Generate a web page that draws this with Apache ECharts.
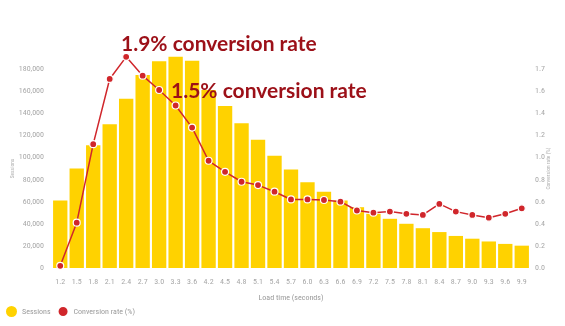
<!DOCTYPE html>
<html><head><meta charset="utf-8">
<script src="https://cdn.jsdelivr.net/npm/echarts@6/dist/echarts.min.js"></script>
<style>html,body{margin:0;padding:0;background:#fff}#c{width:565px;height:326px}</style>
</head><body><div id="c"></div>
<script>
var categories = ['1.2','1.5','1.8','2.1','2.4','2.7','3.0','3.3','3.6','4.2','4.5','4.8','5.1','5.4','5.7','6.0','6.3','6.6','6.9','7.2','7.5','7.8','8.1','8.4','8.7','9.0','9.3','9.6','9.9'];
var sessions = [61000,90000,111000,130000,153000,174500,187000,191000,187500,161000,146500,131000,116000,101500,89000,77500,69000,61000,55000,49000,44500,40000,36000,32500,29000,26500,24000,21800,20200];
var conversion = [0.02,0.41,1.12,1.71,1.91,1.74,1.61,1.47,1.27,0.97,0.87,0.78,0.75,0.69,0.62,0.62,0.615,0.60,0.52,0.50,0.51,0.49,0.48,0.58,0.51,0.48,0.455,0.49,0.54];
var leftTicks = [0,20000,40000,60000,80000,100000,120000,140000,160000,180000];
var rightTickLabels = {'0.0':'0.0','0.2':'0.2','0.4':'0.4','0.6':'0.6','0.8':'0.8','1.0':'1.0','1.2':'1.2','1.4':'1.4','1.6':'1.6','1.8':'1.7'};
var annotations = ['1.9% conversion rate','1.5% conversion rate'];

var gray = '#a8a8a8';
var narrow = '"Roboto Condensed","Open Sans",sans-serif';
var chart = echarts.init(document.getElementById('c'), null, {renderer:'canvas'});
chart.setOption({
  animation:false,
  grid:{left:52,right:35,top:69,bottom:58},
  legend:{
    left:1, bottom:3, itemWidth:11, itemHeight:11, itemGap:6,
    icon:'circle',
    textStyle:{color:'#9a9a9a', fontSize:8, fontFamily:narrow},
    data:['Sessions','Conversion rate (%)']
  },
  xAxis:{
    type:'category', data:categories,
    name:'Load time (seconds)', nameLocation:'middle', nameGap:26,
    nameTextStyle:{color:'#9a9a9a', fontSize:8, fontFamily:narrow},
    axisLine:{show:false}, axisTick:{show:false},
    axisLabel:{color:gray, fontSize:8, fontFamily:narrow, margin:10, interval:0}
  },
  yAxis:[{
    type:'value', min:0, max:180000, interval:20000,
    name:'Sessions', nameLocation:'middle', nameGap:36, nameRotate:90, nameMoveOverlap:false,
    nameTextStyle:{color:'#b0b0b0', fontSize:5.5, fontFamily:narrow},
    axisLine:{show:false}, axisTick:{show:false}, splitLine:{show:false},
    axisLabel:{color:gray, fontSize:8, fontFamily:narrow, margin:8,
      formatter:function(v){return v.toLocaleString('en-US');}}
  },{
    type:'value', min:0, max:1.8, interval:0.2,
    name:'Conversion rate (%)', nameLocation:'middle', nameGap:16, nameRotate:90, nameMoveOverlap:false,
    nameTextStyle:{color:'#b0b0b0', fontSize:5.5, fontFamily:narrow},
    axisLine:{show:false}, axisTick:{show:false}, splitLine:{show:false},
    axisLabel:{color:gray, fontSize:8, fontFamily:narrow, margin:5,
      formatter:function(v){var k=v.toFixed(1);return rightTickLabels[k]!==undefined?rightTickLabels[k]:k;}}
  }],
  series:[{
    name:'Sessions', type:'bar', data:sessions, yAxisIndex:0, clip:false,
    barCategoryGap:'13%', itemStyle:{color:'#FFD200'}
  },{
    name:'Conversion rate (%)', type:'line', data:conversion, yAxisIndex:1, clip:false,
    symbol:'circle', symbolSize:7,
    lineStyle:{color:'#D0262B', width:1.5},
    itemStyle:{color:'#D0262B', borderColor:'#fff', borderWidth:1.2}
  }],
  graphic:[
    {type:'text', left:121, top:34, z:100, style:{text:annotations[0], fill:'#9C1018', font:'bold 21px Lato, sans-serif'}},
    {type:'text', left:171, top:81, z:100, style:{text:annotations[1], fill:'#9C1018', font:'bold 21px Lato, sans-serif'}}
  ]
});
</script></body></html>
